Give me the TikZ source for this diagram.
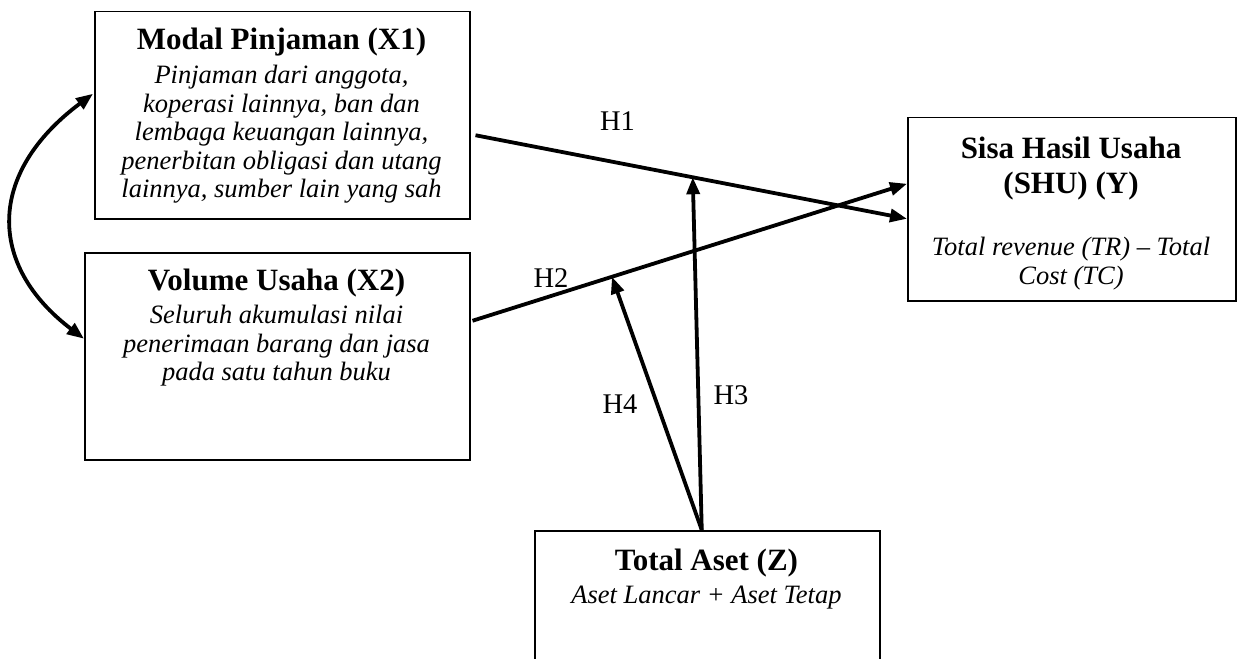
\documentclass[tikz,border=0pt]{standalone}
\usepackage{fontspec}
\setmainfont{Liberation Serif}
\usetikzlibrary{arrows.meta,calc,positioning}

\begin{document}
\begin{tikzpicture}[x=1pt,y=-1pt]
\tikzstyle{every node}+=[inner sep=0pt]
\tikzstyle{kotak}=[draw=black, line width=1.5pt, rectangle, anchor=north west]
\tikzstyle{judul}=[font=\fontsize{31}{35}\selectfont\bfseries, align=center]
\tikzstyle{isi}=[font=\fontsize{26.5}{28.5}\selectfont\itshape, align=center, anchor=north]
\tikzstyle{panah}=[line width=3.8pt, -{Triangle[length=17pt,width=13pt]}]
\tikzstyle{duapanah}=[line width=3.8pt, {Triangle[length=17pt,width=13pt]}-{Triangle[length=17pt,width=13pt]}]
\tikzstyle{hlabel}=[font=\fontsize{28.5}{30}\selectfont, anchor=base]
\useasboundingbox (0,0) rectangle (1246,658);
\clip (0,0) rectangle (1246,658);

% kotak variabel
\node[kotak, minimum width=375pt, minimum height=207pt] (x1) at (94,11) {};
\node[kotak, minimum width=385pt, minimum height=207pt] (x2) at (84,252) {};
\node[kotak, minimum width=328pt, minimum height=183pt] (y) at (907,117) {};
\node[kotak, minimum width=345pt, minimum height=140pt] (z) at (534,530) {};

% teks dalam kotak
\node[judul, anchor=base] (x1t) at (281.5,50) {Modal Pinjaman (X1)};
\node[isi] (x1b) at (281.5,65) {Pinjaman dari anggota,\\koperasi lainnya, ban dan\\lembaga keuangan lainnya,\\penerbitan obligasi dan utang\\lainnya, sumber lain yang sah};
\node[judul, anchor=base] (x2t) at (276.5,290) {Volume Usaha (X2)};
\node[isi] (x2b) at (276.5,305) {Seluruh akumulasi nilai\\penerimaan barang dan jasa\\pada satu tahun buku};
\node[judul, anchor=north] (yt) at (1071,137) {Sisa Hasil Usaha\\(SHU) (Y)};
\node[isi] (yb) at (1071,237) {Total revenue (TR) -- Total\\Cost (TC)};
\node[judul, anchor=base] (zt) at (706.5,570) {Total Aset (Z)};
\node[isi] (zb) at (706.5,586) {Aset Lancar + Aset Tetap};

% titik ujung panah
\coordinate (h1a) at ([xshift=5pt,yshift=-20pt]x1.east);
\coordinate (h1b) at ([yshift=-9.5pt]y.west);
\coordinate (h2a) at ([xshift=2pt,yshift=35.5pt]x2.east);
\coordinate (h2b) at ([yshift=25.5pt]y.west);
\coordinate (z0) at ([xshift=-5.5pt]z.north);
\coordinate (m1) at ($(h1a)!0.5035!(h1b)$);
\coordinate (m2) at ($(h2a)!0.321!(h2b)$);
\coordinate (c1) at ([xshift=-1pt,yshift=21.5pt]x1.west);
\coordinate (c2) at ([yshift=17.5pt]x2.west);

% panah
\draw[panah] (h1a) -- (h1b);
\draw[panah] (h2a) -- (h2b);
\draw[panah] (z0) -- (m1);
\draw[panah] (z0) -- (m2);
\draw[duapanah] (c2) .. controls (-13,265) and (-13,173) .. (c1);

% label hipotesis
\node[hlabel] (lh1) at (617.5,130) {H1};
\node[hlabel] (lh2) at (551,287) {H2};
\node[hlabel] (lh3) at (731,404) {H3};
\node[hlabel] (lh4) at (620,413) {H4};
\end{tikzpicture}
\end{document}
